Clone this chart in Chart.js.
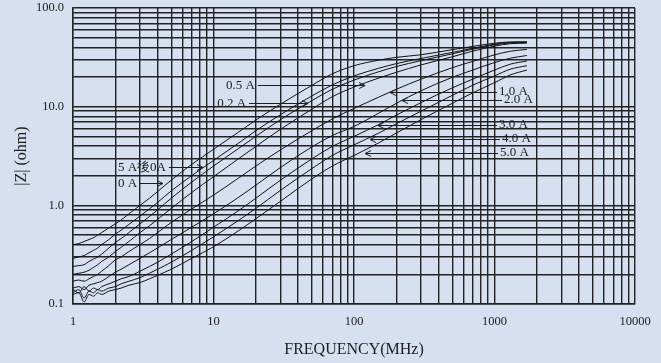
<!DOCTYPE html>
<html><head><meta charset="utf-8">
<script src="https://cdn.jsdelivr.net/npm/chart.js@4.4.1/dist/chart.umd.min.js"></script>
<style>
html,body{margin:0;padding:0;background:#d6e0f0;}
#wrap{width:661px;height:363px;position:relative;}
</style></head><body>
<div id="wrap"><canvas id="c" width="661" height="363"></canvas></div>
<script>
// Frequencies (MHz)
const frequencies = [1, 1.1, 1.2, 1.3, 1.4, 1.5, 1.6, 1.8, 2, 2.2, 2.5, 3, 3.5, 4, 5, 7, 10, 15, 20, 30, 50, 70, 100, 150, 200, 300, 500, 700, 1000, 1300, 1700];
// |Z| (ohm) per bias current
const z0A    = [0.40, 0.41, 0.43, 0.45, 0.47, 0.50, 0.53, 0.59, 0.65, 0.71, 0.82, 1.0, 1.18, 1.38, 1.8, 2.6, 3.7, 5.5, 7.3, 10.6, 16.4, 21.5, 26.0, 29.6, 31.6, 33.6, 37.8, 40.8, 44.0, 45.3, 45.5];
const z5Ato0A= [0.29, 0.30, 0.31, 0.33, 0.35, 0.37, 0.40, 0.45, 0.51, 0.56, 0.64, 0.78, 0.92, 1.07, 1.40, 2.0, 2.85, 4.25, 5.7, 8.3, 12.8, 16.6, 20.5, 24.5, 27.3, 30.8, 35.5, 39.0, 43.0, 44.8, 45.0];
const z02A   = [0.24, 0.245, 0.25, 0.27, 0.285, 0.30, 0.32, 0.37, 0.42, 0.46, 0.53, 0.65, 0.77, 0.90, 1.18, 1.72, 2.5, 3.75, 5.0, 7.4, 11.5, 15.0, 18.6, 22.6, 25.5, 29.3, 34.3, 38.2, 42.3, 44.3, 44.7];
const z05A   = [0.20, 0.205, 0.21, 0.22, 0.235, 0.25, 0.27, 0.30, 0.34, 0.375, 0.43, 0.53, 0.62, 0.72, 0.93, 1.35, 1.95, 2.95, 3.95, 5.9, 9.4, 12.6, 15.8, 19.5, 22.3, 26.5, 32.0, 36.5, 41.0, 43.5, 44.0];
const z10A   = [0.17, 0.175, 0.17, 0.18, 0.19, 0.20, 0.215, 0.245, 0.28, 0.30, 0.34, 0.40, 0.46, 0.53, 0.67, 0.92, 1.27, 1.88, 2.5, 3.65, 5.7, 7.5, 9.6, 12.5, 15.0, 19.0, 24.8, 28.8, 33.5, 36.5, 38.0];
const z20A   = [0.145, 0.15, 0.14, 0.155, 0.16, 0.165, 0.17, 0.19, 0.21, 0.225, 0.25, 0.29, 0.33, 0.37, 0.45, 0.60, 0.82, 1.2, 1.6, 2.42, 3.9, 5.1, 6.3, 8.6, 10.8, 14.5, 19.8, 23.5, 28.0, 31.0, 33.0];
const z30A   = [0.14, 0.13, 0.15, 0.135, 0.145, 0.14, 0.15, 0.16, 0.17, 0.18, 0.19, 0.215, 0.24, 0.265, 0.32, 0.43, 0.60, 0.88, 1.18, 1.8, 2.95, 3.95, 5.0, 6.6, 8.2, 11.0, 15.5, 19.0, 23.5, 27.0, 29.0];
const z40A   = [0.13, 0.14, 0.115, 0.135, 0.13, 0.14, 0.135, 0.145, 0.15, 0.16, 0.17, 0.185, 0.205, 0.225, 0.265, 0.35, 0.48, 0.70, 0.93, 1.42, 2.35, 3.2, 4.1, 5.4, 6.7, 9.0, 13.0, 16.5, 20.5, 24.0, 26.0];
const z50A   = [0.125, 0.13, 0.105, 0.125, 0.12, 0.13, 0.125, 0.135, 0.14, 0.145, 0.155, 0.165, 0.18, 0.195, 0.225, 0.29, 0.38, 0.55, 0.73, 1.1, 1.85, 2.5, 3.2, 4.3, 5.4, 7.4, 10.8, 13.8, 17.5, 21.0, 23.5];

const seriesNames = ['0 A', '5 A後0A', '0.2 A', '0.5 A', '1.0 A', '2.0 A', '3.0 A', '4.0 A', '5.0 A'];
const seriesValues = [z0A, z5Ato0A, z02A, z05A, z10A, z20A, z30A, z40A, z50A];

const xTickLabels = ['1', '10', '100', '1000', '10000'];
const yTickLabels = ['0.1', '1.0', '10.0', '100.0'];
const xDecades = [1, 10, 100, 1000];
const yDecades = [0.1, 1, 10];

// Callout labels (data coordinates): text, arrow line from 'from' to tip 'to' at level z
const callouts = [
  {text: '0.5 A',   from: 20.7, to: 120,  z: 16.7, dir: 'right'},
  {text: '0.2 A',   from: 17.9, to: 47.1, z: 10.98, dir: 'right'},
  {text: '5 A後0A', from: 4.82, to: 8.42, z: 2.46, dir: 'right'},
  {text: '0 A',     from: 3.0,  to: 4.37, z: 1.69, dir: 'right'},
  {text: '1.0 A',   from: 1042, to: 180.4, z: 14.2, dir: 'left'},
  {text: '2.0 A',   from: 1131, to: 219.6, z: 11.78, dir: 'left'},
  {text: '3.0 A',   from: 1042, to: 148.2, z: 6.57, dir: 'left'},
  {text: '4.0 A',   from: 1094, to: 130,  z: 4.73, dir: 'left'},
  {text: '5.0 A',   from: 1059, to: 120,  z: 3.41, dir: 'left'}
];

function logTicks(decades, last) {
  const out = [];
  decades.forEach(d => { for (let k = 1; k <= 9; k++) out.push(+(d * k).toPrecision(6)); });
  out.push(last);
  return out;
}
const xTickValues = logTicks(xDecades, 10000);
const yTickValues = logTicks(yDecades, 100);
const xMajor = [1, 10, 100, 1000, 10000];
const yMajor = [0.1, 1, 10, 100];

const FONT = "'Liberation Serif', 'DejaVu Serif', serif";
const INK = '#1c1c1c';

const calloutPlugin = {
  id: 'callouts',
  afterDatasetsDraw(chart) {
    const {ctx, scales: {x, y}} = chart;
    ctx.save();
    ctx.strokeStyle = INK;
    ctx.fillStyle = INK;
    ctx.lineWidth = 1;
    ctx.font = "13px " + FONT;
    ctx.textBaseline = 'middle';
    callouts.forEach(c => {
      const x0 = x.getPixelForValue(c.from);
      const x1 = x.getPixelForValue(c.to);
      const yy = Math.round(y.getPixelForValue(c.z)) + 0.5;
      ctx.beginPath();
      ctx.moveTo(x0, yy); ctx.lineTo(x1, yy);
      const s = c.dir === 'right' ? -1 : 1;
      ctx.moveTo(x1 + s * 6, yy - 3); ctx.lineTo(x1, yy); ctx.lineTo(x1 + s * 6, yy + 3);
      ctx.stroke();
      if (c.dir === 'right') {
        ctx.textAlign = 'right';
        ctx.fillText(c.text, x0 - 3, yy);
      } else {
        ctx.textAlign = 'left';
        ctx.fillText(c.text, x0 + 2, yy - 1);
      }
    });
    ctx.restore();
  }
};

const datasets = seriesNames.map((name, i) => ({
  label: name,
  data: frequencies.map((f, j) => ({x: f, y: seriesValues[i][j]})),
  borderColor: '#111',
  borderWidth: 1,
  pointRadius: 0,
  fill: false,
  cubicInterpolationMode: 'monotone'
}));

new Chart(document.getElementById('c'), {
  type: 'line',
  data: {datasets},
  options: {
    responsive: false,
    animation: false,
    layout: {padding: {left: 0, right: 26, top: 8, bottom: 0}},
    plugins: {legend: {display: false}, tooltip: {enabled: false}},
    scales: {
      x: {
        type: 'logarithmic', min: 1, max: 10000,
        afterBuildTicks: s => { s.ticks = xTickValues.map(v => ({value: v, major: xMajor.includes(v)})); },
        afterFit: s => { s.height = 59; },
        grid: {color: '#222', lineWidth: 1.4, drawTicks: false},
        border: {color: '#222', width: 1.4},
        ticks: {
          autoSkip: false, maxRotation: 0, padding: 10, color: INK,
          font: {family: FONT, size: 12.5},
          callback: v => { const i = xMajor.indexOf(v); return i >= 0 ? xTickLabels[i] : ''; }
        },
        title: {display: true, text: 'FREQUENCY(MHz)', color: INK, font: {family: FONT, size: 16}, padding: {top: 0, bottom: 4}}
      },
      y: {
        type: 'logarithmic', min: 0.1, max: 100,
        afterBuildTicks: s => { s.ticks = yTickValues.map(v => ({value: v, major: yMajor.includes(v)})); },
        afterFit: s => { s.width = 73; s.paddingTop = 0; s.paddingBottom = 0; },
        grid: {color: '#222', lineWidth: 1.4, drawTicks: false},
        border: {color: '#222', width: 1.4},
        ticks: {
          autoSkip: false, padding: 9, color: INK,
          font: {family: FONT, size: 12.5},
          callback: v => { const i = yMajor.indexOf(v); return i >= 0 ? yTickLabels[i] : ''; }
        },
        title: {display: true, text: '|Z| (ohm)', color: INK, font: {family: FONT, size: 16}, padding: {top: 12, bottom: 0}}
      }
    }
  },
  plugins: [calloutPlugin]
});
</script>
</body></html>
